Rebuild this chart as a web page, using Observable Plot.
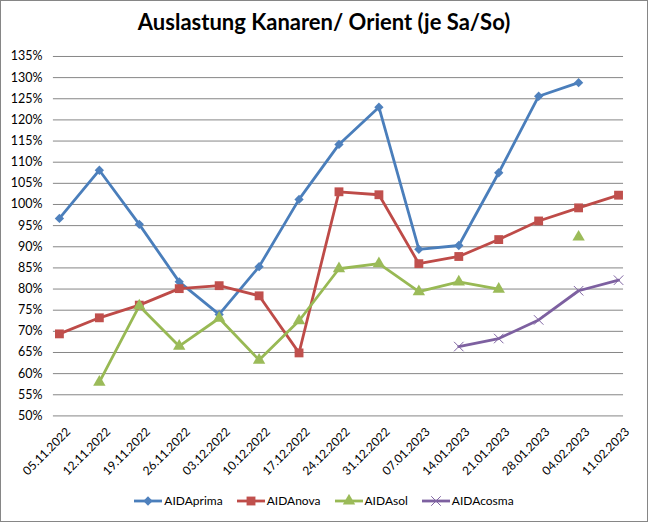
<!DOCTYPE html>
<html>
<head>
<meta charset="utf-8">
<script src="https://cdn.jsdelivr.net/npm/d3@7"></script>
<script src="https://cdn.jsdelivr.net/npm/@observablehq/plot@0.6"></script>
<style>
  html, body { margin: 0; padding: 0; background: #fff; }
  #chart { position: relative; width: 648px; height: 522px; box-sizing: border-box; border: 1px solid #868686; background: #fff; font-family: Lato, "Open Sans", sans-serif; overflow: hidden; }
  #title { position: absolute; top: 7px; left: -1px; width: 648px; text-align: center; font: bold 22px Lato, sans-serif; color: #000; }
  #plot { position: absolute; top: 39px; left: -1px; }
  #legend { position: absolute; top: 492px; left: -1px; width: 648px; display: flex; justify-content: center; align-items: center; font: 12px Lato, sans-serif; color: #000; }
  .item { display: flex; align-items: center; margin: 0 7px; }
  .item svg { margin-right: 2px; }
</style>
</head>
<body>
<div id="chart">
  <div id="title">Auslastung Kanaren/ Orient (je Sa/So)</div>
  <div id="plot"></div>
  <div id="legend"></div>
</div>
<script>
const dates = ["05.11.2022","12.11.2022","19.11.2022","26.11.2022","03.12.2022","10.12.2022","17.12.2022","24.12.2022","31.12.2022","07.01.2023","14.01.2023","21.01.2023","28.01.2023","04.02.2023","11.02.2023"];
const seriesNames = ["AIDAprima","AIDAnova","AIDAsol","AIDAcosma"];
const aidaPrima = [96.7,108.1,95.3,81.7,74.0,85.3,101.2,114.2,123.0,89.4,90.3,107.5,125.6,128.8,null];
const aidaNova  = [69.4,73.2,76.2,80.1,80.8,78.4,64.9,103.0,102.3,86.0,87.7,91.7,96.1,99.2,102.2];
const aidaSol   = [null,58.0,76.0,66.5,73.1,63.2,72.5,84.8,86.0,79.4,81.7,80.0,null,92.3,null];
const aidaCosma = [null,null,null,null,null,null,null,null,null,null,66.4,68.3,72.7,79.6,82.1];
const yTicks = [50,55,60,65,70,75,80,85,90,95,100,105,110,115,120,125,130,135];

const lineColors = ["#4A7EBB","#BE4B48","#98B954","#7D60A0"];
const markColors = ["#4F81BD","#C0504D","#9BBB59","#8064A2"];
const symbols = ["diamond2","square","triangle","times"];
const radii = [4.2,5.0,4.6,4.4];

const allValues = [aidaPrima, aidaNova, aidaSol, aidaCosma];
const data = [];
seriesNames.forEach((s, i) => {
  dates.forEach((d, j) => data.push({series: s, date: d, value: allValues[i][j]}));
});

const dotMarks = seriesNames.map((s, i) => {
  const pts = data.filter(d => d.series === s && d.value != null);
  if (symbols[i] === "times") {
    return Plot.dot(pts, {x: "date", y: "value", symbol: () => "times", r: radii[i], stroke: markColors[i], strokeWidth: 1, fill: "none"});
  }
  return Plot.dot(pts, {x: "date", y: "value", symbol: () => symbols[i], r: radii[i], fill: markColors[i], stroke: "none"});
});

const chart = Plot.plot({
  width: 648,
  height: 445,
  marginTop: 16,
  marginBottom: 69,
  marginLeft: 53,
  marginRight: 24,
  style: {fontFamily: "Lato, sans-serif", fontSize: "12.5px", color: "#000", background: "transparent"},
  x: {type: "point", domain: dates, padding: 0.1, label: null},
  y: {domain: [50, 135], ticks: yTicks, label: null},
  symbol: {type: "identity"},
  marks: [
    Plot.gridY(yTicks, {stroke: "#868686", strokeOpacity: 1, strokeWidth: 1}),
    Plot.axisY(yTicks, {tickSize: 0, tickPadding: 11, tickFormat: d => d + "%", fontSize: 12.5}),
    Plot.axisX(dates, {tickSize: 0, tickRotate: -45, tickPadding: 6, textAnchor: "end", fontSize: 12, dx: 9, dy: 8}),
    Plot.line(data, {x: "date", y: "value", z: "series", stroke: d => lineColors[seriesNames.indexOf(d.series)], strokeWidth: 2.8, curve: "linear"}),
    ...dotMarks
  ]
});
document.getElementById("plot").appendChild(chart);

// legend
const legend = document.getElementById("legend");
seriesNames.forEach((s, i) => {
  const item = document.createElement("div");
  item.className = "item";
  const ns = "http://www.w3.org/2000/svg";
  const svg = document.createElementNS(ns, "svg");
  svg.setAttribute("width", 28); svg.setAttribute("height", 14);
  const ln = document.createElementNS(ns, "line");
  ln.setAttribute("x1", 0); ln.setAttribute("x2", 28); ln.setAttribute("y1", 7); ln.setAttribute("y2", 7);
  ln.setAttribute("stroke", lineColors[i]); ln.setAttribute("stroke-width", 2.8);
  svg.appendChild(ln);
  const sym = d3.symbol().type([d3.symbolDiamond2, d3.symbolSquare, d3.symbolTriangle, d3.symbolTimes][i]).size(Math.PI * radii[i] * radii[i])();
  const p = document.createElementNS(ns, "path");
  p.setAttribute("d", sym);
  p.setAttribute("transform", "translate(14,7)");
  if (i === 3) { p.setAttribute("fill", "none"); p.setAttribute("stroke", markColors[i]); }
  else p.setAttribute("fill", markColors[i]);
  svg.appendChild(p);
  item.appendChild(svg);
  const t = document.createElement("span");
  t.textContent = s;
  item.appendChild(t);
  legend.appendChild(item);
});
</script>
</body>
</html>
